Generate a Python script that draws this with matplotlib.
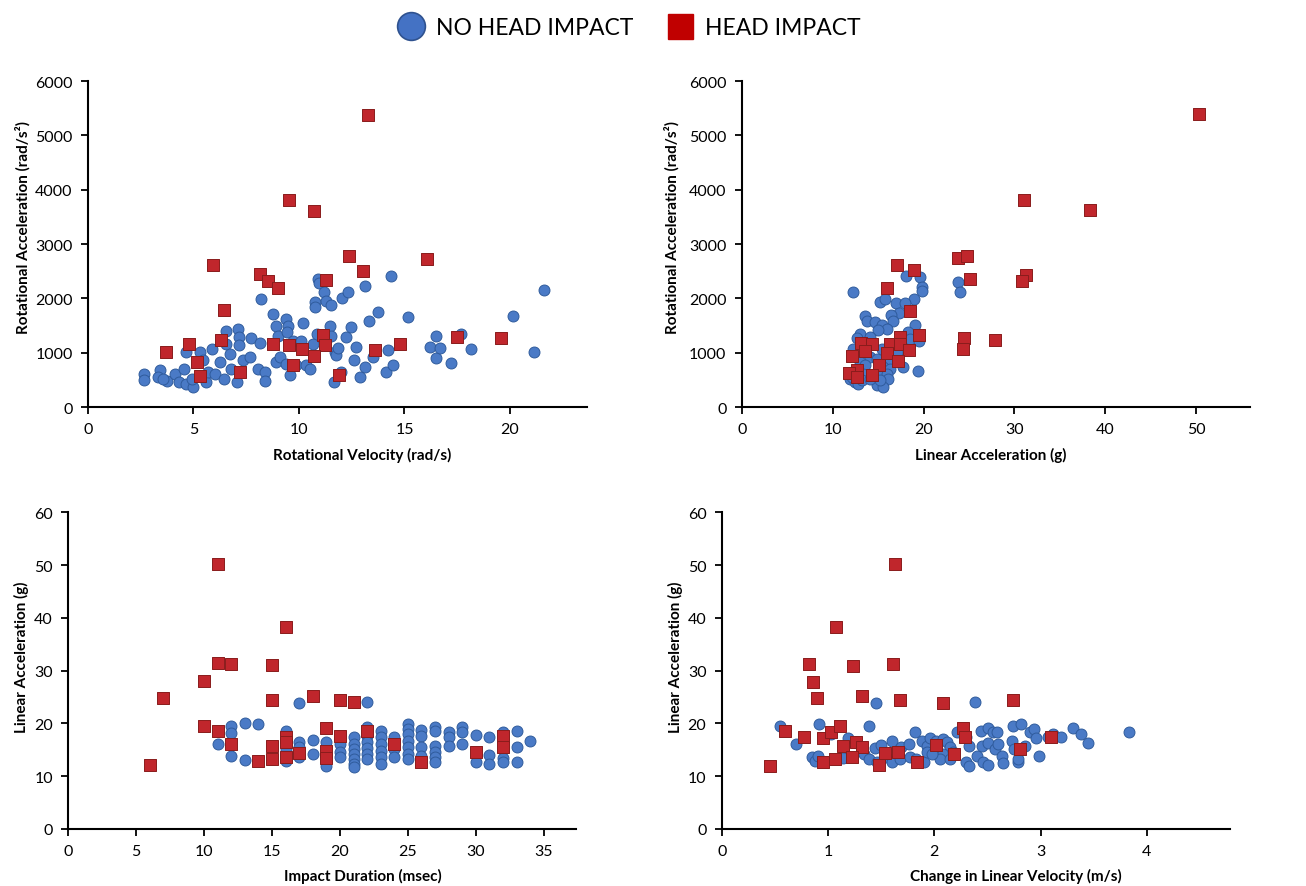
import matplotlib.pyplot as plt
from matplotlib.lines import Line2D

plt.rcParams['font.family'] = ['Lato', 'DejaVu Sans']

# Rotational velocity (rad/s) vs rotational acceleration (rad/s^2)
rv_no_x = [2.64, 2.64, 3.39, 3.32, 3.74, 3.55, 4.11, 4.29, 4.53, 4.63, 4.66, 4.97, 4.94, 5.29,
           5.45, 5.61, 5.68, 5.89, 6.0, 6.24, 6.43, 6.52, 6.55, 6.71, 6.79, 7.11, 7.15, 7.15,
           7.06, 7.34, 7.66, 7.74, 8.05, 8.16, 8.21, 8.40, 8.40, 8.76, 8.92, 8.92, 9.0, 9.11,
           9.40, 9.47, 9.43, 9.40, 9.58, 9.71, 10.11, 10.18, 9.87, 10.34, 10.5, 10.66, 10.74,
           10.74, 10.85, 10.9, 10.94, 11.18, 11.29, 11.53, 11.45, 11.53, 11.68, 11.73, 11.76,
           11.84, 12.0, 12.05, 12.32, 12.24, 12.47, 12.63, 12.71, 12.87, 13.11, 13.14, 13.34,
           13.5, 13.74, 14.21, 14.37, 14.13, 14.45, 15.19, 16.22, 16.5, 16.5, 16.69, 17.7,
           17.21, 18.16, 20.13, 21.16, 21.6]
rv_no_y = [612, 490, 686, 551, 471, 520, 606, 459, 704, 1010, 429, 367, 520, 1010,
           857, 459, 643, 1071, 612, 826, 520, 1408, 1163, 980, 704, 1439, 1286, 1133,
           459, 857, 918, 1267, 704, 1182, 1990, 643, 471, 1714, 1500, 826, 1316, 918,
           1622, 1500, 1377, 796, 594, 1224, 1224, 1549, 765, 765, 704, 1151, 1928,
           1837, 1347, 2357, 2283, 2112, 1959, 1880, 1500, 1316, 459, 1010, 949,
           1090, 643, 2002, 2124, 1298, 1469, 857, 1102, 551, 735, 2235, 1592,
           918, 1745, 1041, 2418, 643, 765, 1665, 1102, 1316, 900, 1084, 1347,
           814, 1071, 1684, 1010, 2161]
rv_hi_x = [13.27, 9.53, 10.71, 5.92, 12.37, 16.07, 8.14, 8.53, 13.05, 11.30, 9.02, 6.43,
           3.71, 4.79, 6.32, 5.17, 5.29, 8.77, 9.53, 10.14, 11.14, 11.25, 10.71, 9.72,
           7.22, 11.90, 13.62, 14.77, 17.49, 19.59]
rv_hi_y = [5375, 3814, 3612, 2620, 2786, 2730, 2449, 2326, 2510, 2333, 2198, 1782,
           1010, 1157, 1237, 833, 569, 1151, 1145, 1071, 1322, 1145, 943, 777,
           643, 594, 1053, 1163, 1286, 1267]

# Linear acceleration (g) vs rotational acceleration (rad/s^2)
la_no_x = [12.27, 18.06, 19.6, 19.78, 19.8, 18.97, 23.74, 24.0, 15.2, 15.75, 16.92, 17.95,
           17.33, 16.41, 13.55, 13.74, 14.65, 15.38, 16.67, 19.05, 15.93, 15.02, 13.0, 12.64,
           14.1, 18.32, 18.5, 19.52, 12.2, 13.19, 14.1, 14.84, 15.38, 16.3, 17.03, 13.0,
           13.55, 15.57, 16.3, 17.69, 12.27, 13.37, 15.2, 15.93, 16.12, 19.41, 11.9, 12.45,
           12.82, 13.19, 14.84, 15.49, 15.2, 14.1, 12.09]
la_no_y = [2112, 2418, 2388, 2204, 2143, 1990, 2296, 2112, 1928, 1990, 1916, 1916,
           1733, 1696, 1684, 1592, 1561, 1512, 1592, 1512, 1439, 1426, 1347, 1267,
           1298, 1377, 1243, 1206, 1071, 1010, 918, 888, 1071, 888, 1010, 826,
           765, 735, 704, 735, 643, 612, 643, 612, 520, 655, 520, 459,
           428, 490, 398, 367, 490, 520, 551]
la_hi_x = [50.26, 31.03, 38.28, 23.77, 24.73, 17.1, 18.94, 31.25, 30.84, 25.09, 15.93, 18.5,
           19.52, 17.4, 24.43, 27.84, 13.08, 14.29, 16.3, 17.4, 13.55, 15.93, 18.39, 24.29,
           12.09, 17.14, 15.09, 12.64, 11.79, 12.71, 14.29]
la_hi_y = [5400, 3808, 3630, 2737, 2773, 2620, 2516, 2437, 2326, 2357, 2198, 1775,
           1328, 1286, 1267, 1237, 1175, 1151, 1163, 1163, 1028, 992, 1041, 1065,
           943, 839, 765, 673, 618, 551, 582]

# Impact duration (msec) vs linear acceleration (g)
dur_no_x = [11, 12, 12, 12, 13, 13, 14, 16, 16, 16, 17, 17, 17, 17, 18, 18, 19, 19,
            20, 20, 20, 21, 21, 21, 21, 21, 21, 21, 22, 22, 22, 22, 22, 22, 22,
            23, 23, 23, 23, 23, 23, 24, 24, 24, 25, 25, 25, 25, 25, 25, 25,
            26, 26, 26, 26, 27, 27, 27, 27, 27, 27, 28, 28, 28, 29, 29, 29,
            30, 30, 31, 31, 31, 32, 32, 32, 33, 33, 33, 34]
dur_no_y = [16.1, 19.6, 18.2, 13.9, 20.1, 13.1, 19.8, 18.5, 15.2, 12.9, 23.9, 16.4, 15.5, 13.6,
            16.9, 14.2, 16.4, 12.0, 16.1, 14.5, 13.6, 17.4, 16.1, 15.2, 14.2, 13.3, 12.3, 11.7,
            24.1, 19.3, 17.7, 16.4, 15.3, 14.2, 13.3, 18.6, 17.4, 16.1, 14.8, 13.6, 12.3,
            17.4, 15.2, 13.6, 19.9, 19.0, 18.0, 16.7, 15.5, 14.2, 13.3, 18.8, 17.6, 15.5,
            13.9, 19.4, 18.6, 15.8, 14.5, 13.6, 12.6, 18.3, 17.4, 15.8, 19.3, 18.3, 16.1,
            17.8, 12.6, 17.4, 14.0, 12.3, 18.3, 13.4, 12.6, 18.6, 15.5, 12.6, 16.6]
dur_hi_x = [11, 16, 11, 12, 15, 10, 7, 15, 18, 20, 21, 10, 11, 19, 22, 12, 15, 16, 16,
            16, 17, 20, 19, 19, 24, 30, 32, 32, 26, 6, 14, 15]
dur_hi_y = [50.2, 38.3, 31.4, 31.3, 31.1, 28.0, 24.8, 24.5, 25.1, 24.4, 24.0, 19.6, 18.6,
            19.1, 18.6, 16.1, 15.8, 17.4, 16.4, 13.7, 14.3, 17.6, 14.8, 13.4, 16.1, 14.5,
            17.7, 15.5, 12.6, 12.2, 12.8, 13.3]

# Change in linear velocity (m/s) vs linear acceleration (g)
dv_no_x = [0.55, 0.70, 0.92, 0.85, 0.88, 0.91, 1.03, 1.14, 1.19, 1.39, 1.45, 1.34, 1.39,
           1.44, 1.46, 1.50, 1.55, 1.60, 1.60, 1.69, 1.68, 1.76, 1.77, 1.82, 1.83, 1.90,
           1.88, 1.93, 1.96, 2.02, 2.08, 2.12, 2.15, 2.08, 2.05, 2.15, 2.18, 1.93, 1.98,
           2.21, 2.30, 2.33, 2.30, 2.33, 2.38, 2.40, 2.44, 2.45, 2.46, 2.51, 2.51, 2.51,
           2.55, 2.59, 2.57, 2.60, 2.64, 2.65, 2.73, 2.74, 2.75, 2.82, 2.79, 2.79, 2.85,
           2.90, 2.94, 2.96, 2.99, 3.07, 3.12, 3.19, 3.31, 3.38, 3.45, 3.83]
dv_no_y = [19.6, 16.1, 19.9, 13.6, 12.9, 13.9, 18.0, 13.4, 17.2, 19.6, 23.9, 14.2, 13.3,
           15.3, 12.6, 15.9, 13.6, 12.6, 16.6, 15.5, 13.3, 16.1, 13.6, 18.3, 13.3, 12.6,
           16.7, 15.8, 17.2, 16.6, 17.1, 16.4, 15.5, 14.2, 13.3, 13.3, 14.5, 14.5, 14.2,
           18.3, 17.4, 15.8, 12.6, 12.0, 24.0, 13.9, 18.6, 15.8, 12.6, 19.1, 16.3, 12.1,
           18.3, 18.3, 15.2, 16.1, 13.9, 12.5, 16.7, 19.6, 15.2, 19.8, 12.6, 13.3, 15.8,
           18.4, 19.0, 17.2, 13.9, 17.5, 18.0, 17.5, 19.1, 17.9, 16.3, 18.3]
dv_hi_x = [1.63, 1.075, 0.82, 1.24, 1.61, 0.86, 0.90, 1.32, 1.68, 2.08, 2.74, 0.60, 0.77,
           0.95, 1.03, 1.11, 1.14, 1.26, 1.32, 1.23, 1.07, 0.95, 0.45, 1.48, 1.54, 1.66,
           1.84, 2.02, 2.19, 2.27, 2.29, 2.81, 3.10]
dv_hi_y = [50.3, 38.3, 31.3, 30.8, 31.3, 27.9, 24.8, 25.1, 24.5, 23.9, 24.4, 18.5, 17.4,
           17.2, 18.4, 19.6, 15.8, 16.4, 15.5, 13.7, 13.3, 12.6, 12.0, 12.2, 14.3, 14.5,
           12.6, 16.0, 14.2, 19.1, 17.5, 15.2, 17.5]

blue = '#4a7ac6'
blue_edge = '#2f5b9c'
red = '#c0262c'
red_edge = '#8a1c1c'

fig = plt.figure(figsize=(13.06, 8.87), dpi=100)

# position, data, limits, ticks, axis titles, label coords (xlabel x, ylabel x, ylabel y)
panels = [
    ([0.0674, 0.540, 0.382, 0.3675], rv_no_x, rv_no_y, rv_hi_x, rv_hi_y,
     (0, 23.65), (0, 6000), range(0, 21, 5), range(0, 6001, 1000),
     'Rotational Velocity (rad/s)', 'Rotational Acceleration (rad/s²)', 0.55, -0.116, 0.555),
    ([0.568, 0.540, 0.389, 0.3675], la_no_x, la_no_y, la_hi_x, la_hi_y,
     (0, 55.9), (0, 6000), range(0, 51, 10), range(0, 6001, 1000),
     'Linear Acceleration (g)', 'Rotational Acceleration (rad/s²)', 0.49, -0.122, 0.555),
    ([0.0523, 0.0643, 0.389, 0.357], dur_no_x, dur_no_y, dur_hi_x, dur_hi_y,
     (0, 37.4), (0, 60), range(0, 36, 5), range(0, 61, 10),
     'Impact Duration (msec)', 'Linear Acceleration (g)', 0.58, -0.077, 0.545),
    ([0.5526, 0.0643, 0.389, 0.357], dv_no_x, dv_no_y, dv_hi_x, dv_hi_y,
     (0, 4.78), (0, 60), range(0, 5), range(0, 61, 10),
     'Change in Linear Velocity (m/s)', 'Linear Acceleration (g)', 0.58, -0.077, 0.545),
]

for pos, nx, ny, hx, hy, xl, yl, xt, yt, xlab, ylab, lx, lyx, ly in panels:
    ax = fig.add_axes(pos)
    ax.scatter(nx, ny, s=62, marker='o', color=blue, edgecolors=blue_edge, linewidths=0.7, zorder=2)
    ax.scatter(hx, hy, s=75, marker='s', color=red, edgecolors=red_edge, linewidths=0.7, zorder=3)
    ax.set_xlim(*xl)
    ax.set_ylim(*yl)
    ax.set_xticks(list(xt))
    ax.set_yticks(list(yt))
    ax.spines['top'].set_visible(False)
    ax.spines['right'].set_visible(False)
    for s in ('left', 'bottom'):
        ax.spines[s].set_linewidth(1.5)
    ax.tick_params(direction='out', length=5, width=1.3, labelsize=11.5, pad=6)
    ax.set_xlabel(xlab, fontsize=11, fontweight='bold')
    ax.set_ylabel(ylab, fontsize=11, fontweight='bold')
    ax.xaxis.set_label_coords(lx, -0.123)
    ax.yaxis.set_label_coords(lyx, ly)

handles = [
    Line2D([], [], marker='o', linestyle='none', markersize=20, markerfacecolor='#4472c4',
           markeredgecolor='#2f528f', markeredgewidth=1.2),
    Line2D([], [], marker='s', linestyle='none', markersize=18, markerfacecolor='#c00000',
           markeredgecolor='#c00000'),
]
fig.legend(handles, ['NO HEAD IMPACT', 'HEAD IMPACT'], loc='upper center',
           bbox_to_anchor=(0.478, 1.003), ncol=2, frameon=False, fontsize=16.5,
           handletextpad=0.1, columnspacing=1.0)

fig.savefig('out.png', dpi=100)
